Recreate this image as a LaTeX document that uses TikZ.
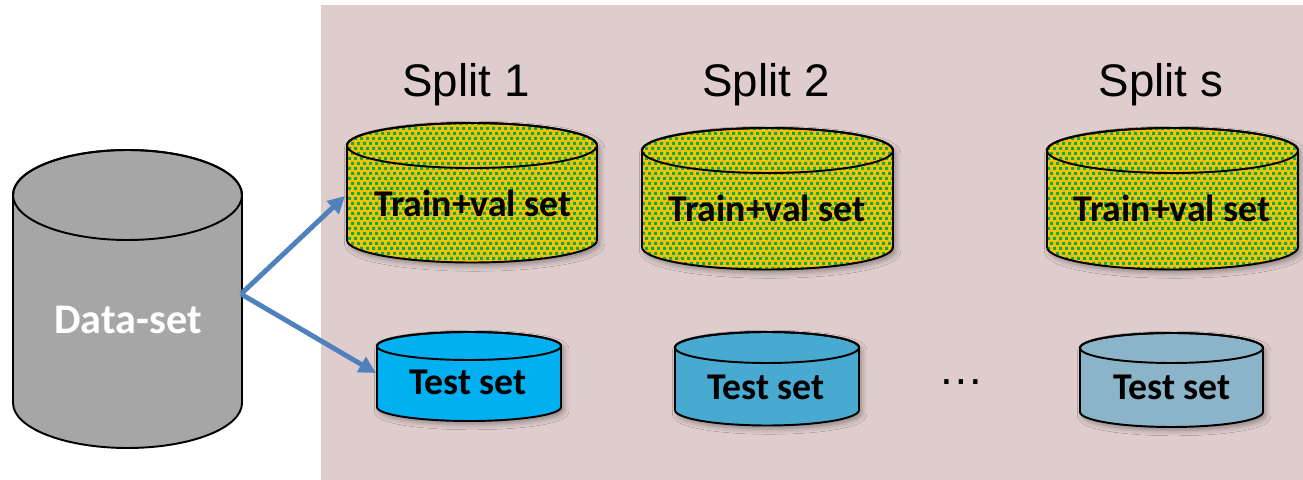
\documentclass[tikz,border=0pt]{standalone}
\usepackage{fontspec}
\setmainfont{Carlito}
\newfontfamily\splitfont{Liberation Sans}
\usetikzlibrary{arrows.meta,shadows.blur}

\definecolor{panel}{RGB}{223,205,205}
\definecolor{tvyellow}{RGB}{255,192,0}
\definecolor{tvgreen}{RGB}{0,176,80}
\definecolor{dsgray}{RGB}{166,166,166}
\definecolor{testA}{RGB}{0,176,240}
\definecolor{testB}{RGB}{72,170,208}
\definecolor{testC}{RGB}{139,180,200}
\definecolor{arrowblue}{RGB}{79,129,189}

\tikzset{
  drumline/.style={draw=black, line width=1.1pt},
  drumshadow/.style={blur shadow={shadow xshift=1.5pt, shadow yshift=-2pt,
      shadow blur radius=3pt, shadow opacity=35}},
  lbl/.style={font=\bfseries\fontsize{21.5}{26}\selectfont, anchor=base, inner sep=0pt},
  biglbl/.style={font=\bfseries\fontsize{24}{29}\selectfont, anchor=base, inner sep=0pt},
  splitlbl/.style={font=\splitfont\fontsize{26}{30}\selectfont, anchor=base, inner sep=0pt},
  flow/.style={draw=arrowblue, line width=2.8pt,
      -{Triangle[length=0.34cm, width=0.34cm]}},
}

% outline of a drum: centre x, top-ellipse centre y, x radius, y radius, bottom-ellipse centre y
\newcommand\DrumPath[5]{%
  (#1-#3,#2) -- (#1-#3,#5)
    arc[start angle=180, end angle=360, x radius=#3, y radius=#4]
    -- (#1+#3,#2)
    arc[start angle=0, end angle=180, x radius=#3, y radius=#4] -- cycle}

% plain drum with a solid fill
\newcommand\DrawDrum[6]{%
  \path[drumline, #6] \DrumPath{#1}{#2}{#3}{#4}{#5};
  \draw[drumline] (#1,#2) ellipse[x radius=#3, y radius=#4];
}

% drum filled yellow and dotted with staggered green squares on a whole-unit grid
\newcommand\DrawCheckDrum[5]{%
  \fill[tvyellow, drumshadow] \DrumPath{#1}{#2}{#3}{#4}{#5};
  \begin{scope}
    \clip \DrumPath{#1}{#2}{#3}{#4}{#5};
    \fill[tvgreen] \foreach \r in {0,...,31} {
      \foreach \c in {0,...,45} {
        ({6*floor((#1-#3)/6)-6+6*\c+3*mod(\r,2)}, {5*floor((#5-#4)/5)-5+5*\r}) rectangle ++(3,3)
      }
    };
  \end{scope}
  \draw[drumline] \DrumPath{#1}{#2}{#3}{#4}{#5};
  \draw[drumline] (#1,#2) ellipse[x radius=#3, y radius=#4];
}

\begin{document}
\begin{tikzpicture}[x=0.02cm, y=0.02cm]
\useasboundingbox (0,0) rectangle (1303,480);

% panel holding the splits
\fill[panel] (321,0) rectangle (1303,475);

% full data set
\DrawDrum{127.5}{285}{114.5}{45}{77}{fill=dsgray}
\node[biglbl, text=white] (ds) at (128,146) {Data-set};

% train+val drums
\DrawCheckDrum{472}{334.5}{125}{22.5}{240}
\DrawCheckDrum{767.5}{329.5}{125.5}{22.5}{233}
\DrawCheckDrum{1172.5}{329.5}{125.5}{22.5}{233}
\node[lbl] (tv1) at (473,263.5) {Train+val set};
\node[lbl] (tv2) at (767,258.5) {Train+val set};
\node[lbl] (tvs) at (1172,258.5) {Train+val set};

% test drums
\DrawDrum{469}{134}{92}{14}{73}{fill=testA, drumshadow}
\DrawDrum{767}{132.5}{92}{15.5}{70}{fill=testB, drumshadow}
\DrawDrum{1171.5}{132}{91.5}{15}{68}{fill=testC, drumshadow}
\node[lbl] (te1) at (468,85.5) {Test set};
\node[lbl] (te2) at (766,80.5) {Test set};
\node[lbl] (tes) at (1172,80.5) {Test set};

% split headings
\node[splitlbl] (s1) at (466,383) {Split 1};
\node[splitlbl] (s2) at (766,383) {Split 2};
\node[splitlbl] (ss) at (1161,383) {Split s};
\node[splitlbl] (gap) at (961,95) {…};

% split arrows
\coordinate (ds-out) at (241,186);
\coordinate (tv1-in) at (345,284);
\coordinate (te1-in) at (376,107);
\draw[flow] (ds-out) -- (tv1-in);
\draw[flow] (ds-out) -- (te1-in);
\end{tikzpicture}
\end{document}
